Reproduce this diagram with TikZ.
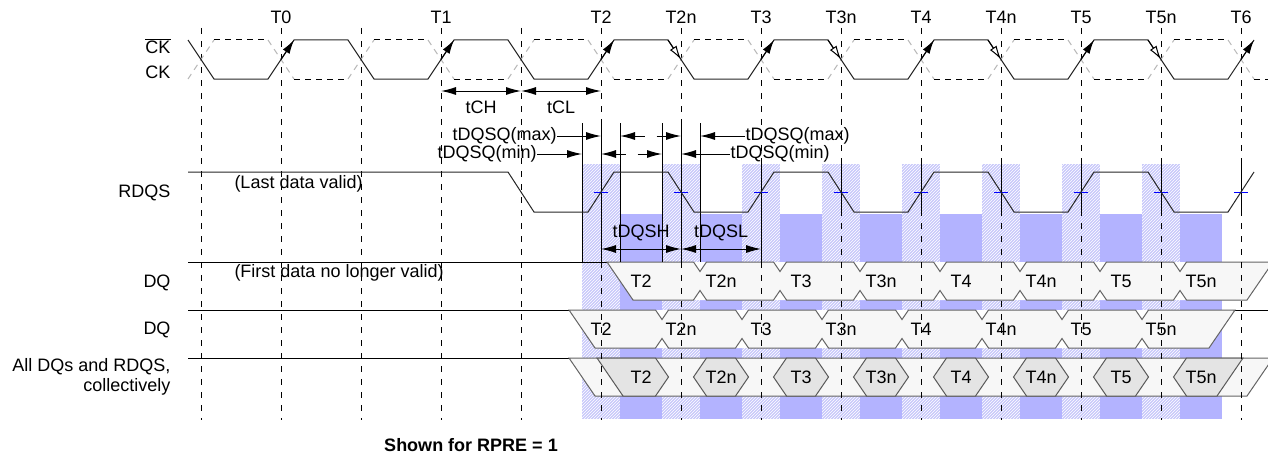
\documentclass[tikz,border=0pt]{standalone}
\usepackage{fontspec}
\setmainfont{Liberation Sans}
\usetikzlibrary{arrows.meta,patterns}

\definecolor{validblue}{RGB}{179,179,255}
\definecolor{hatchblue}{RGB}{200,200,250}
\definecolor{busfill}{RGB}{247,247,247}
\definecolor{busline}{RGB}{100,100,100}
\definecolor{eyefill}{RGB}{228,228,228}

\tikzset{
  gridline/.style={dash pattern=on 6pt off 7pt},
  ckdash/.style={dash pattern=on 6pt off 5pt},
  ckedge/.style={ckdash,gray!55},
  wave/.style={black!85},
  bus/.style={fill=busfill,draw=busline},
  eye/.style={fill=eyefill,draw=black!65},
  hatch/.style={preaction={fill=hatchblue},pattern=north east lines,pattern color=white},
  skewdim/.style={<->,dash pattern=on 10pt off 12pt},
}

\begin{document}
\begin{tikzpicture}[x=1pt,y=-1pt,line width=1pt,
    font=\fontsize{18}{20}\selectfont,inner sep=0pt,
    >={Latex[length=15pt,width=8pt]}]
    \useasboundingbox (0,0) rectangle (1268,460);
    \clip (0,0) rectangle (1268,460);

    % data eye windows: hatched = skew, solid = valid
    \foreach \k in {0,...,7}{
      \pgfmathsetmacro{\e}{582+80*\k}% early edge
      \pgfmathsetmacro{\l}{620+80*\k}% late edge
      \fill[hatch] (\e,164) rectangle (\l,419);
      \fill[validblue] (\l,214) rectangle (\e+80,419);
    }

    \foreach \y in {262,310,358}
      \draw (188,\y) -- (1268,\y);

    % DQ, late
    \fill[white] (607,262) -- (1273,262) -- (1247,300) -- (633,300) -- cycle;
    \filldraw[bus] (607,262)
      foreach \k in {1,...,7}{ -- (\k*80+613.5,262) -- (\k*80+620,271.5) -- (\k*80+626.5,262) }
      -- (1273,262) -- (1247,300)
      foreach \k in {7,...,1}{ -- (\k*80+626.5,300) -- (\k*80+620,290.5) -- (\k*80+613.5,300) }
      -- (633,300) -- cycle;
    % DQ, early
    \fill[white] (569,310) -- (1235,310) -- (1209,348) -- (595,348) -- cycle;
    \filldraw[bus] (569,310)
      foreach \k in {1,...,7}{ -- (\k*80+575.5,310) -- (\k*80+582,319.5) -- (\k*80+588.5,310) }
      -- (1235,310) -- (1209,348)
      foreach \k in {7,...,1}{ -- (\k*80+588.5,348) -- (\k*80+582,338.5) -- (\k*80+575.5,348) }
      -- (595,348) -- cycle;
    % all DQs and RDQS
    \filldraw[bus] (569,358) -- (1273,358) -- (1247,396) -- (595,396) -- cycle;
    \filldraw[eye] (597,358) -- (655.5,358) -- (668.5,377) -- (655.5,396) -- (623,396) -- cycle;
    \foreach \k in {1,...,6}
      \filldraw[eye] (\k*80+613.5,377) -- (\k*80+626.5,358) -- (\k*80+655.5,358)
        -- (\k*80+668.5,377) -- (\k*80+655.5,396) -- (\k*80+626.5,396) -- cycle;
    \filldraw[eye] (1173.5,377) -- (1186.5,358) -- (1243,358) -- (1217,396) -- (1186.5,396) -- cycle;

    \foreach \t [count=\i from 0] in {T2,T2n,T3,T3n,T4,T4n,T5,T5n}{
      \node (dqa\t) at (641+80*\i,281) {\t};
      \node (dqb\t) at (601+80*\i,329) {\t};
      \node (all\t) at (641+80*\i,377) {\t};
    }

    \foreach \x in {201,281,...,1241}
      \draw[gridline] (\x,28) -- (\x,420);

    % extension lines
    \foreach \x in {582,601,620,662,681,700}
      \draw (\x,123) -- (\x,262);
    \draw (761,164) -- (761,262);
    \foreach \x in {601,681,...,1241}{
      \draw (\x,164) -- (\x,212);
      \draw[blue] (\x-7,192) -- (\x+7,192);
    }

    % clocks
    \foreach \x in {201,361,...,1161}{
      \draw[ckedge] (\x-13,79) -- (\x+13,40);
      \draw[ckdash] (\x+13,40) -- (\x+67,40);
    }
    \foreach \x in {281,441,...,1241}{
      \draw[ckedge] (\x-13,40) -- (\x+13,79);
      \draw[ckdash] (\x+13,79) -- (\x+67,79);
    }
    \draw[wave] (188,40) -- (214,79)
      foreach \x in {281,441,...,1081}{ -- (\x-13,79) -- (\x+13,40) -- (\x+67,40) -- (\x+93,79) }
      -- (1228,79) -- (1254,40);
    \foreach \x in {281,441,...,1241}
      \draw[-{Latex[length=14pt,width=8pt]}] (\x,59.5) -- (\x+13,40);
    \foreach \x in {681,841,1001,1161}
      \draw[-{Latex[length=14pt,width=8pt,fill=white]}] (\x-13,40) -- (\x,59.5);

    % RDQS
    \draw[wave] (188,172) -- (508,172) -- (534,212)
      foreach \x in {601,761,921,1081}{ -- (\x-13,212) -- (\x+13,172) -- (\x+67,172) -- (\x+93,212) }
      -- (1228,212) -- (1254,172);

    % timing parameters
    \coordinate (tchA) at (441,91);
    \coordinate (tchB) at (521,91);
    \coordinate (tclB) at (601,91);
    \draw[<->] (tchA) -- (tchB);
    \draw[<->] (tchB) -- (tclB);
    \node (tCH) at (481,107) {tCH};
    \node (tCL) at (561,107) {tCL};

    \node[anchor=east] (maxL) at (557,136) {tDQSQ(max)};
    \node[anchor=west] (maxR) at (745,136) {tDQSQ(max)};
    \node[anchor=east] (minL) at (537,154) {tDQSQ(min)};
    \node[anchor=west] (minR) at (730,154) {tDQSQ(min)};
    \coordinate (maxA) at (601,136);
    \coordinate (maxB) at (620,136);
    \coordinate (maxC) at (681,136);
    \coordinate (maxD) at (700,136);
    \coordinate (minA) at (582,154);
    \coordinate (minB) at (601,154);
    \coordinate (minC) at (662,154);
    \coordinate (minD) at (681,154);
    \draw[->] (maxL.east) -- (maxA);
    \draw[skewdim] (maxB) -- (maxC);
    \draw[->] (maxR.west) -- (maxD);
    \draw[->] (minL.east) -- (minA);
    \draw[skewdim] (minB) -- (minC);
    \draw[->] (minR.west) -- (minD);

    \coordinate (dqshA) at (601,249);
    \coordinate (dqshB) at (681,249);
    \coordinate (dqslB) at (761,249);
    \draw[<->] (dqshA) -- (dqshB);
    \draw[<->] (dqshB) -- (dqslB);
    \node (tDQSH) at (641,233) {tDQSH};
    \node (tDQSL) at (721,233) {tDQSL};

    % labels
    \foreach \x/\t in {281/T0,441/T1,601/T2,681/T2n,761/T3,841/T3n,921/T4,1001/T4n,1081/T5,1161/T5n,1241/T6}
      \node (lab\t) at (\x,17) {\t};
    \node[anchor=east] (lblCKbar) at (171,46) {$\overline{\mbox{CK}}$};
    \node[anchor=east] (lblCK) at (171,72) {CK};
    \node[anchor=east] (lblRDQS) at (171,193) {RDQS};
    \node[anchor=east] (lblDQa) at (171,283) {DQ};
    \node[anchor=east] (lblDQb) at (171,330) {DQ};
    \node[anchor=east,align=right] (lblAll) at (171,377) {All DQs and RDQS,\\collectively};
    \node[anchor=west] (noteLast) at (234,184) {(Last data valid)};
    \node[anchor=west] (noteFirst) at (234,273) {(First data no longer valid)};
    \node[font=\fontsize{18}{20}\selectfont\bfseries] (caption) at (471,445) {Shown for RPRE = 1};
\end{tikzpicture}
\end{document}
